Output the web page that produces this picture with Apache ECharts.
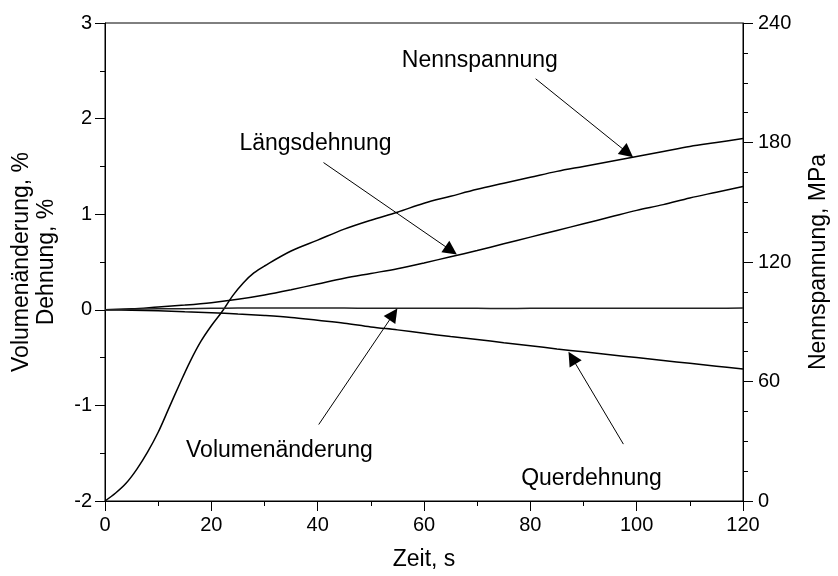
<!DOCTYPE html>
<html><head><meta charset="utf-8">
<script src="https://cdn.jsdelivr.net/npm/echarts@6/dist/echarts.min.js"></script>
<style>html,body{margin:0;padding:0;background:#fff}#c{width:838px;height:576px}</style>
</head><body><div id="c"></div>
<script>
// ---- data ----
const stressTime = [0,2,4,6,8,10,12,14,16,18,20,22,24,26,28,30,35,40,45,50,55,60,65,70,75,80,85,90,95,100,105,110,115,120];
const stressMPa  = [0,4,9,16,24.5,34.5,46.5,58.5,70,80,88,95,103,109.5,114.5,118,125.5,131,136.5,141,145,149.5,153,156.5,159.5,162.5,165.5,168,170.5,173,175.5,178,180,182];

const strainTime = [0,5,10,15,20,25,30,35,40,45,50,55,60,65,70,75,80,85,90,95,100,105,110,115,120];
const laengsdehnung = [0,0.01,0.03,0.05,0.075,0.11,0.155,0.21,0.27,0.33,0.38,0.43,0.49,0.555,0.62,0.69,0.76,0.83,0.9,0.97,1.04,1.1,1.17,1.23,1.29];
const querdehnung   = [0,-0.005,-0.01,-0.02,-0.03,-0.045,-0.06,-0.08,-0.11,-0.14,-0.18,-0.21,-0.245,-0.28,-0.31,-0.345,-0.375,-0.41,-0.44,-0.47,-0.5,-0.53,-0.56,-0.59,-0.62];
const volumen       = [0,0.005,0.01,0.012,0.015,0.018,0.02,0.02,0.019,0.018,0.017,0.016,0.015,0.016,0.015,0.014,0.015,0.016,0.015,0.016,0.015,0.016,0.017,0.017,0.018];

const xTicks = [0,20,40,60,80,100,120];
const leftTicks = [-2,-1,0,1,2,3];
const rightTicks = [0,60,120,180,240];

// annotations: text, text position, arrow start, arrow head (data units)
const annoLeft = [
  {text:'Längsdehnung',   pos:[39.6,1.74],  from:[41.1,1.54],  to:[65.1,0.62]},
  {text:'Volumenänderung',pos:[32.8,-1.47], from:[40.2,-1.2],  to:[54.25,-0.046]},
  {text:'Querdehnung',    pos:[91.5,-1.77], from:[97.5,-1.405],to:[87.85,-0.503]}
];
const annoRight = [
  {text:'Nennspannung',   pos:[70.5,221],   from:[81,212],     to:[98.3,174.8]}
];

const FONT = 'Liberation Sans, Arial, sans-serif';
const chart = echarts.init(document.getElementById('c'));
const pairs = (xs, ys) => xs.map((x,i)=>[x, ys[i]]);
const curve = (name, xs, ys, yIdx, color) => ({
  name, type:'line', yAxisIndex:yIdx, data:pairs(xs,ys), showSymbol:false,
  smooth:0.35,
  lineStyle:{color:color||'#000', width:1.5}, silent:true, animation:false
});
const arrowLines = (list) => ({
  silent:true, symbol:['none','triangle'], symbolSize:14, animation:false,
  label:{show:false}, lineStyle:{color:'#000', width:1, type:'solid'},
  emphasis:{disabled:true},
  data:list.map(a=>[{coord:a.from},{coord:a.to}])
});
const textSeries = (list, yIdx) => ({
  type:'scatter', yAxisIndex:yIdx, symbolSize:0, silent:true, animation:false,
  itemStyle:{color:'#000'},
  data:list.map(a=>({value:a.pos, name:a.text})),
  label:{show:true, position:'inside', formatter:p=>p.name, color:'#000',
         textBorderWidth:0, textBorderColor:'transparent', opacity:1,
         fontFamily:FONT, fontSize:23}
});

const axisCommon = {
  axisLine:{show:true, onZero:false, lineStyle:{color:'#000', width:1}},
  axisTick:{show:true, inside:false, length:10, lineStyle:{color:'#000'}},
  splitLine:{show:false},
  nameTextStyle:{color:'#000', fontFamily:FONT, fontSize:23}
};

chart.setOption({
  animation:false,
  backgroundColor:'#fff',
  grid:{left:105, right:86, top:23, bottom:74, show:true, borderColor:'#000', borderWidth:1, containLabel:false},
  xAxis:Object.assign({}, axisCommon, {
    type:'value', min:xTicks[0], max:xTicks[xTicks.length-1], interval:20,
    minorTick:{show:true, splitNumber:2, length:5, lineStyle:{color:'#000'}},
    axisLabel:{color:'#000', fontFamily:FONT, fontSize:20, margin:14},
    name:'Zeit, s', nameLocation:'middle', nameGap:47
  }),
  yAxis:[
    Object.assign({}, axisCommon, {
      type:'value', position:'left', min:leftTicks[0], max:leftTicks[leftTicks.length-1], interval:1,
      minorTick:{show:true, splitNumber:2, length:5, lineStyle:{color:'#000'}},
      axisLabel:{color:'#000', fontFamily:FONT, fontSize:20, margin:13},
      name:'Volumenänderung, %\nDehnung, %', nameLocation:'middle', nameGap:46, nameRotate:90,
      nameTextStyle:{color:'#000', fontFamily:FONT, fontSize:23, lineHeight:25}
    }),
    Object.assign({}, axisCommon, {
      type:'value', position:'right', min:rightTicks[0], max:rightTicks[rightTicks.length-1], interval:60,
      minorTick:{show:true, splitNumber:4, length:5, lineStyle:{color:'#000'}},
      axisLabel:{color:'#000', fontFamily:FONT, fontSize:20, margin:15},
      name:'Nennspannung, MPa', nameLocation:'middle', nameGap:64, nameRotate:90
    })
  ],
  series:[
    Object.assign(curve('Nennspannung', stressTime, stressMPa, 1), {markLine:arrowLines(annoRight)}),
    Object.assign(curve('Längsdehnung', strainTime, laengsdehnung, 0), {markLine:arrowLines(annoLeft)}),
    curve('Querdehnung', strainTime, querdehnung, 0),
    curve('Volumenänderung', strainTime, volumen, 0, '#222'),
    textSeries(annoLeft, 0),
    textSeries(annoRight, 1)
  ]
});
</script></body></html>
